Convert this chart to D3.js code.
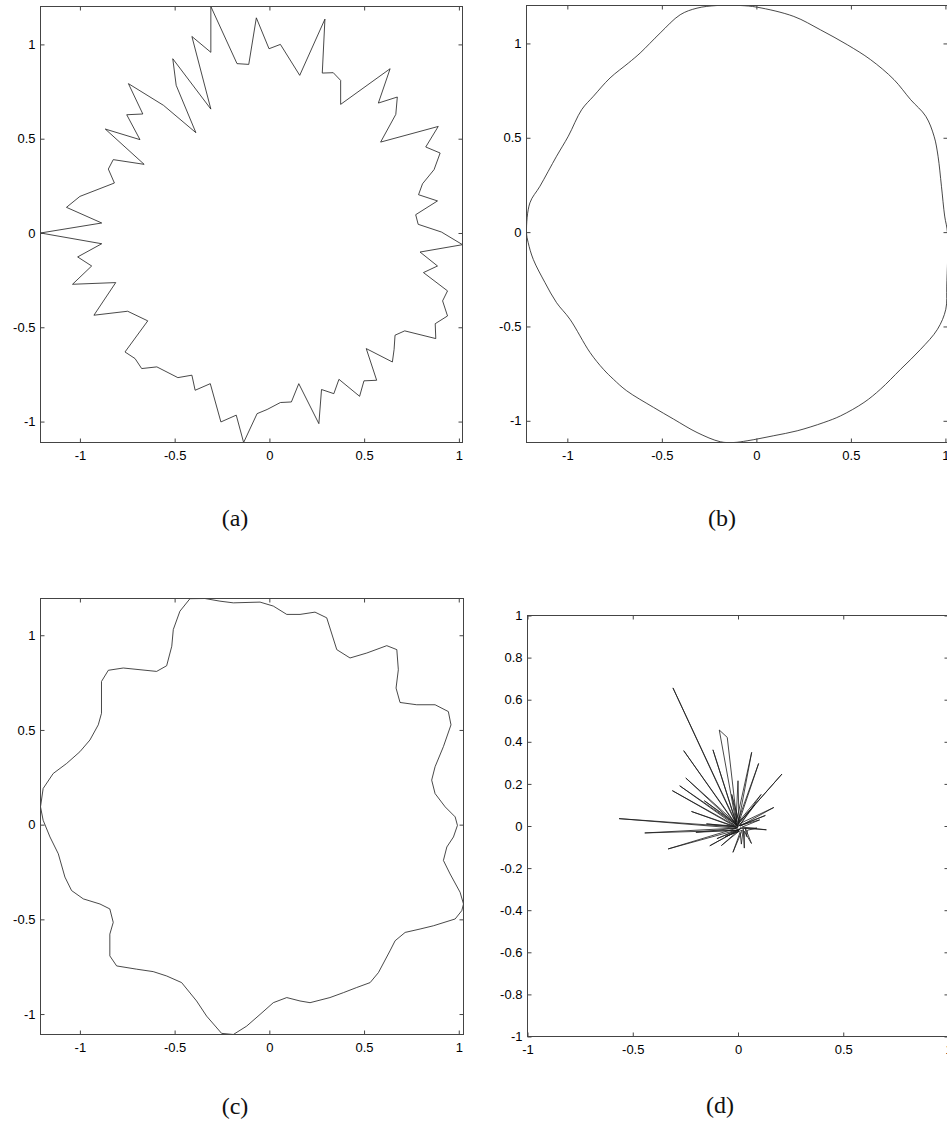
<!DOCTYPE html>
<html>
<head>
<meta charset="utf-8">
<script src="https://cdn.jsdelivr.net/npm/d3@7"></script>
<style>
  body { margin: 0; background: #fff; }
  svg { display: block; }
  .tick text { font-family: "Liberation Sans", Arial, sans-serif; font-size: 13px; fill: #000; }
  .tick line { stroke: #444; }
  .caption { font-family: "Liberation Serif", "Times New Roman", serif; font-size: 24px; fill: #111; }
</style>
</head>
<body>
<script>

// panel (a): jagged contour, vertices
var aX = [-1.208,-0.885,-1.071,-1.000,-0.818,-0.850,-0.824,-0.661,-0.866,-0.683,-0.753,-0.668,-0.744,-0.559,-0.388,-0.492,-0.510,-0.309,-0.409,-0.309,-0.309,-0.171,-0.109,-0.069,-0.002,0.058,0.160,0.293,0.279,0.337,0.376,0.376,0.637,0.575,0.675,0.667,0.587,0.891,0.825,0.901,0.869,0.808,0.787,0.887,0.772,0.785,0.908,1.019,0.795,0.887,0.813,0.940,0.914,0.940,0.875,0.878,0.714,0.663,0.658,0.649,0.511,0.566,0.499,0.476,0.367,0.340,0.275,0.261,0.155,0.116,0.058,-0.012,-0.065,-0.136,-0.175,-0.256,-0.312,-0.392,-0.409,-0.483,-0.594,-0.674,-0.709,-0.762,-0.642,-0.748,-0.926,-0.811,-1.039,-0.938,-1.012,-0.885];
var aY = [0.000,0.053,0.136,0.194,0.265,0.339,0.389,0.364,0.551,0.495,0.627,0.631,0.792,0.677,0.532,0.783,0.924,0.657,1.042,0.958,1.201,0.898,0.894,1.141,0.977,1.000,0.836,1.134,0.848,0.850,0.809,0.682,0.871,0.689,0.721,0.629,0.482,0.565,0.456,0.424,0.336,0.261,0.203,0.170,0.097,0.046,0.005,-0.062,-0.101,-0.175,-0.210,-0.307,-0.360,-0.440,-0.481,-0.560,-0.519,-0.542,-0.618,-0.684,-0.613,-0.781,-0.784,-0.866,-0.776,-0.852,-0.830,-1.011,-0.799,-0.896,-0.899,-0.936,-0.958,-1.111,-0.966,-1.002,-0.799,-0.834,-0.754,-0.767,-0.710,-0.719,-0.666,-0.631,-0.466,-0.415,-0.436,-0.263,-0.272,-0.175,-0.127,-0.057];

// panel (b): smooth contour
var bX = [-1.216,-1.198,-1.145,-1.057,-0.995,-0.924,-0.862,-0.774,-0.677,-0.615,-0.509,-0.403,-0.314,-0.208,-0.085,0.004,0.198,0.339,0.481,0.604,0.728,0.816,0.896,0.940,0.961,0.979,0.996,1.011,1.007,1.002,0.958,0.869,0.763,0.657,0.569,0.445,0.357,0.216,0.092,-0.049,-0.120,-0.191,-0.314,-0.438,-0.544,-0.686,-0.756,-0.809,-0.880,-0.986,-1.057,-1.118,-1.180,-1.207];
var bY = [0.000,0.155,0.243,0.402,0.508,0.649,0.720,0.817,0.896,0.949,1.055,1.152,1.187,1.201,1.201,1.192,1.143,1.072,0.993,0.914,0.808,0.702,0.614,0.508,0.402,0.243,0.085,-0.004,-0.286,-0.409,-0.515,-0.621,-0.727,-0.832,-0.903,-0.974,-1.009,-1.053,-1.079,-1.106,-1.115,-1.111,-1.062,-0.991,-0.929,-0.841,-0.780,-0.727,-0.638,-0.462,-0.374,-0.268,-0.145,-0.056];

// panel (c): wavy contour
var cX = [-1.208,-1.194,-1.141,-1.070,-1.000,-0.947,-0.903,-0.886,-0.886,-0.850,-0.771,-0.595,-0.542,-0.515,-0.507,-0.472,-0.419,-0.340,-0.261,-0.190,-0.049,0.021,0.092,0.162,0.241,0.303,0.356,0.426,0.514,0.620,0.673,0.681,0.669,0.690,0.778,0.875,0.945,0.959,0.919,0.875,0.857,0.875,0.928,0.981,0.993,0.972,0.937,0.919,0.954,1.007,1.025,1.016,0.981,0.866,0.796,0.717,0.664,0.637,0.576,0.532,0.461,0.391,0.320,0.215,0.162,0.092,0.021,-0.049,-0.120,-0.190,-0.252,-0.331,-0.384,-0.463,-0.542,-0.613,-0.701,-0.806,-0.842,-0.842,-0.824,-0.842,-0.894,-0.982,-1.044,-1.079,-1.114,-1.158,-1.194];
var cY = [0.094,0.191,0.270,0.323,0.385,0.447,0.527,0.588,0.756,0.815,0.827,0.809,0.839,0.942,1.030,1.127,1.193,1.194,1.180,1.171,1.175,1.154,1.110,1.110,1.122,1.092,0.924,0.880,0.906,0.945,0.924,0.818,0.721,0.645,0.633,0.633,0.597,0.527,0.412,0.306,0.235,0.164,0.094,0.041,-0.004,-0.065,-0.118,-0.189,-0.260,-0.357,-0.419,-0.454,-0.498,-0.534,-0.551,-0.569,-0.613,-0.666,-0.781,-0.834,-0.860,-0.887,-0.913,-0.940,-0.931,-0.913,-0.940,-1.002,-1.064,-1.108,-1.102,-1.011,-0.931,-0.834,-0.799,-0.776,-0.763,-0.746,-0.693,-0.578,-0.516,-0.445,-0.419,-0.392,-0.348,-0.277,-0.154,-0.065,0.023];

// panel (d): polyline jumping between the hub and the spike tips
var dX = [0.010,0.135,0.020,0.103,0.000,0.130,0.010,0.170,-0.005,0.209,0.000,0.080,0.005,0.110,-0.005,0.098,0.000,0.065,-0.010,0.000,0.005,-0.030,-0.005,-0.051,-0.089,-0.010,-0.119,-0.005,-0.309,0.000,-0.258,-0.010,-0.248,-0.005,-0.160,0.000,-0.277,-0.010,-0.312,0.000,-0.221,-0.020,-0.150,0.000,-0.565,-0.010,-0.443,0.005,-0.200,-0.005,-0.332,0.010,-0.134,0.000,-0.100,0.015,-0.079,0.005,-0.060,0.020,-0.024,0.010,0.016,0.025,0.030,0.030,0.064,0.035,0.040,0.045,0.090,0.010];
var dY = [-0.010,-0.018,-0.005,0.029,0.000,0.050,0.000,0.088,0.005,0.247,0.010,0.100,0.000,0.150,0.010,0.297,0.005,0.350,0.010,0.215,0.020,0.150,0.020,0.421,0.456,0.020,0.362,0.000,0.656,-0.005,0.358,0.005,0.228,0.010,0.120,0.000,0.191,0.000,0.168,-0.010,0.069,0.000,0.010,-0.005,0.035,-0.010,-0.033,-0.020,-0.030,-0.010,-0.109,-0.015,-0.094,-0.020,-0.060,-0.010,-0.093,-0.025,-0.050,-0.020,-0.125,-0.030,-0.086,-0.015,-0.105,-0.025,-0.083,-0.010,-0.050,-0.020,-0.010,-0.010];
var dXDomain = [-1, 1];
var dYDomain = [-1, 1];

// tick values and captions
var ticksHalf = [-1, -0.5, 0, 0.5, 1];
var ticksFifth = [-1, -0.8, -0.6, -0.4, -0.2, 0, 0.2, 0.4, 0.6, 0.8, 1];
var captions = ["(a)", "(b)", "(c)", "(d)"];

// page layout: frame box [left, top, right, bottom] and caption anchor
var panels = [
  {xs: aX, ys: aY, curve: d3.curveLinearClosed, box: [40.5, 6.5, 462.5, 442.5], cap: [235, 526], yt: ticksHalf},
  {xs: bX, ys: bY, curve: d3.curveCatmullRomClosed, box: [526.5, 5.5, 947.5, 442.5], cap: [722, 526], yt: ticksHalf},
  {xs: cX, ys: cY, curve: d3.curveLinearClosed, box: [40.5, 598.5, 463.5, 1034.5], cap: [235, 1114], yt: ticksHalf},
  {xs: dX, ys: dY, curve: d3.curveLinear, box: [527.5, 615.5, 948.5, 1036.5], cap: [720, 1113], yt: ticksFifth,
   xd: dXDomain, yd: dYDomain}
];

var svg = d3.select("body").append("svg")
            .attr("width", 947)
            .attr("height", 1129);

panels.forEach(function(p, i) {
  var l = p.box[0], t = p.box[1], r = p.box[2], b = p.box[3];

  // tight axes unless limits are given
  var x = d3.scaleLinear().domain(p.xd || d3.extent(p.xs)).range([l, r]);
  var y = d3.scaleLinear().domain(p.yd || d3.extent(p.ys)).range([b, t]);

  var g = svg.append("g");

  g.append("clipPath")
   .attr("id", "clip" + i)
   .append("rect")
   .attr("x", l).attr("y", t)
   .attr("width", r - l).attr("height", b - t);

  var pts = p.xs.map(function(v, k) { return [v, p.ys[k]]; });

  var line = d3.line()
               .x(function(d) { return x(d[0]); })
               .y(function(d) { return y(d[1]); })
               .curve(p.curve);

  g.append("path")
   .datum(pts)
   .attr("clip-path", "url(#clip" + i + ")")
   .attr("d", line)
   .attr("fill", "none")
   .attr("stroke", "#1a1a1a")
   .attr("stroke-width", 0.8)
   .attr("stroke-linejoin", "round");

  // inward ticks on all four sides
  var fmt = function(d) { return String(d); };

  g.append("g")
   .attr("transform", "translate(0," + b + ")")
   .call(d3.axisBottom(x).tickValues(ticksHalf).tickFormat(fmt).tickSizeInner(-4).tickSizeOuter(0).tickPadding(8));

  g.append("g")
   .attr("transform", "translate(" + l + ",0)")
   .call(d3.axisLeft(y).tickValues(p.yt).tickFormat(fmt).tickSizeInner(-4).tickSizeOuter(0).tickPadding(5));

  g.append("g")
   .attr("transform", "translate(0," + t + ")")
   .call(d3.axisTop(x).tickValues(ticksHalf).tickFormat("").tickSizeInner(-4).tickSizeOuter(0));

  g.append("g")
   .attr("transform", "translate(" + r + ",0)")
   .call(d3.axisRight(y).tickValues(p.yt).tickFormat("").tickSizeInner(-4).tickSizeOuter(0));

  g.selectAll(".domain").remove();

  // frame
  g.append("rect")
   .attr("x", l).attr("y", t)
   .attr("width", r - l).attr("height", b - t)
   .attr("fill", "none")
   .attr("stroke", "#444")
   .attr("stroke-width", 1);

  svg.append("text")
     .attr("class", "caption")
     .attr("x", p.cap[0])
     .attr("y", p.cap[1])
     .attr("text-anchor", "middle")
     .text(captions[i]);
});

</script>
</body>
</html>
